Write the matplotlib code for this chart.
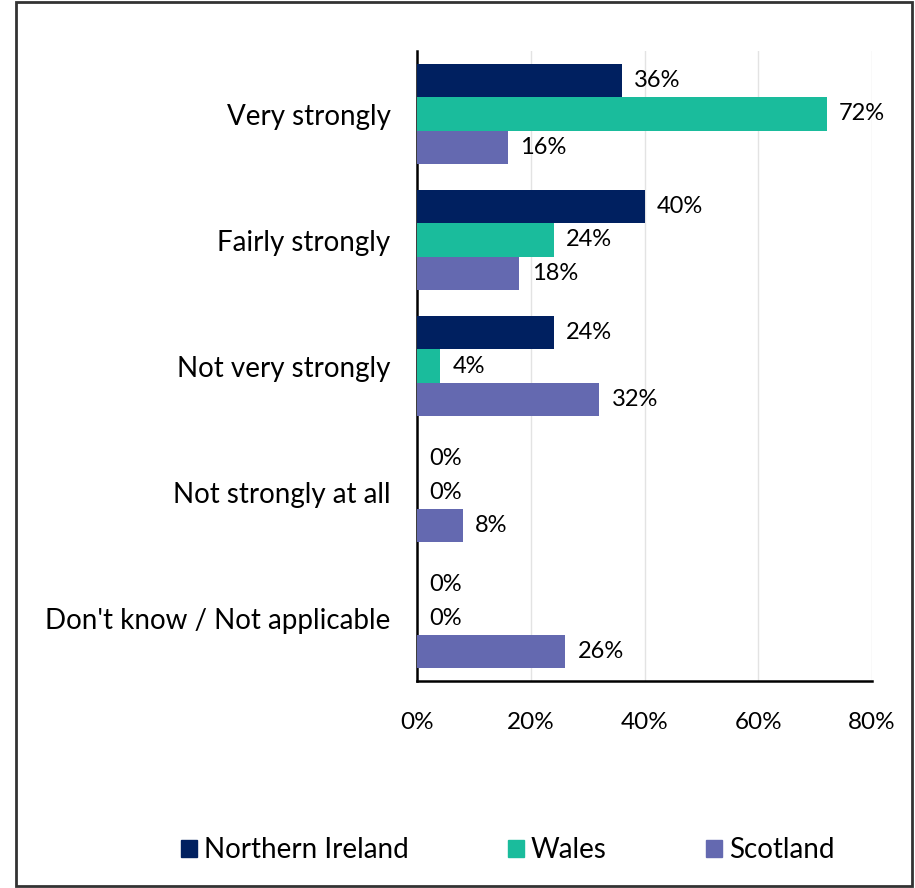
import matplotlib.pyplot as plt
from matplotlib.patches import Rectangle
import numpy as np

categories = ["Very strongly", "Fairly strongly", "Not very strongly",
              "Not strongly at all", "Don't know / Not applicable"]
series_names = ["Northern Ireland", "Wales", "Scotland"]
northern_ireland = [36, 40, 24, 0, 0]
wales = [72, 24, 4, 0, 0]
scotland = [16, 18, 32, 8, 26]
colors = ["#002060", "#1ABC9C", "#6469B0"]
x_ticks = [0, 20, 40, 60, 80]

plt.rcParams['font.family'] = ['Lato', 'DejaVu Sans']

fig = plt.figure(figsize=(9.15, 8.88), dpi=100)
ax = fig.add_axes([417 / 915, 1 - 681 / 888, (872 - 417) / 915, 630 / 888])

y = np.arange(len(categories))
h = 0.262
for i, (vals, col) in enumerate(zip([northern_ireland, wales, scotland], colors)):
    pos = y + (i - 1) * h
    ax.barh(pos, vals, height=h, color=col, zorder=3)
    for p, v in zip(pos, vals):
        ax.text(v + 2.2, p, f"{v}%", va="center", ha="left", fontsize=17, color="#000000")

ax.set_ylim(len(categories) - 0.5, -0.5)
ax.set_xlim(0, 80)
ax.set_yticks(y)
ax.set_yticklabels(categories, fontsize=20)
ax.set_xticks(x_ticks)
ax.set_xticklabels([f"{t}%" for t in x_ticks], fontsize=17.5)
ax.tick_params(axis="y", length=0, pad=19)
ax.tick_params(axis="x", length=0, pad=22)
ax.grid(axis="x", color="#E3E3E3", linewidth=1, zorder=0)
for s in ["top", "right"]:
    ax.spines[s].set_visible(False)
ax.spines["left"].set_linewidth(1.8)
ax.spines["bottom"].set_linewidth(1.8)

handles = [Rectangle((0, 0), 1, 1, color=c) for c in colors]
fig.legend(handles, series_names, loc="center", bbox_to_anchor=(0.555, 1 - 850 / 888),
           ncol=3, frameon=False, fontsize=20, handlelength=0.55, handleheight=0.55,
           handletextpad=0.25, columnspacing=3.6)

fig.add_artist(Rectangle((16 / 915, 2 / 888), (912 - 16) / 915, 884 / 888,
                         transform=fig.transFigure, fill=False, edgecolor="#333333",
                         linewidth=2))

fig.savefig("out.png", dpi=100)
